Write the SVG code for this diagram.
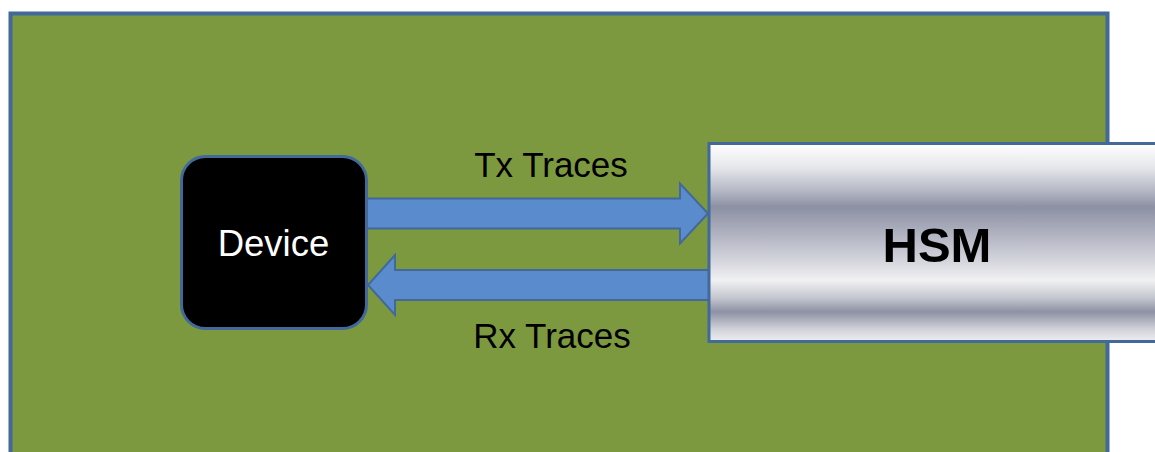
<svg xmlns="http://www.w3.org/2000/svg" width="1155" height="452" viewBox="0 0 1155 452">
  <defs>
    <linearGradient id="metal" x1="0" y1="0" x2="0" y2="1">
      <stop offset="0" stop-color="#ffffff"/>
      <stop offset="0.12" stop-color="#e6e7eb"/>
      <stop offset="0.24" stop-color="#b4b7c4"/>
      <stop offset="0.32" stop-color="#8b90a3"/>
      <stop offset="0.48" stop-color="#b6b8c5"/>
      <stop offset="0.6" stop-color="#d6d7de"/>
      <stop offset="0.69" stop-color="#f1f1f3"/>
      <stop offset="0.78" stop-color="#c4c6cf"/>
      <stop offset="0.85" stop-color="#8d91a4"/>
      <stop offset="0.94" stop-color="#d2d3da"/>
      <stop offset="1" stop-color="#efeff1"/>
    </linearGradient>
    <style>
      .label { font-family: "Liberation Sans", Arial, sans-serif; font-size: 35px; fill: #000000; text-anchor: middle; }
      .arrow { fill: #5a8bcd; stroke: #41699a; stroke-width: 2; stroke-linejoin: miter; }
    </style>
  </defs>

  <g id="board">
    <rect x="10.5" y="13.5" width="1097" height="460" fill="#7d993f" stroke="#42699a" stroke-width="4"/>
  </g>

  <g id="connectors">
    <polygon class="arrow" points="367,198.5 680,198.5 680,183.5 708,213.5 680,243.5 680,228.5 367,228.5"/>
    <polygon class="arrow" points="709,270 395,270 395,255 368,285 395,315 395,300 709,300"/>
  </g>

  <g id="device">
    <rect x="181.5" y="156.5" width="185" height="172" rx="24" ry="24" fill="#000000" stroke="#42699a" stroke-width="3"/>
    <text x="273.5" y="255.5" class="label" style="fill:#ffffff;font-size:36.5px">Device</text>
  </g>

  <g id="hsm">
    <rect x="709" y="143.5" width="460" height="198" fill="url(#metal)" stroke="#42699a" stroke-width="3"/>
    <text x="937" y="261.5" class="label" style="font-weight:bold;font-size:49px">HSM</text>
  </g>

  <g id="labels">
    <text x="551" y="176.5" class="label">Tx Traces</text>
    <text x="552" y="347.5" class="label">Rx Traces</text>
  </g>
</svg>
